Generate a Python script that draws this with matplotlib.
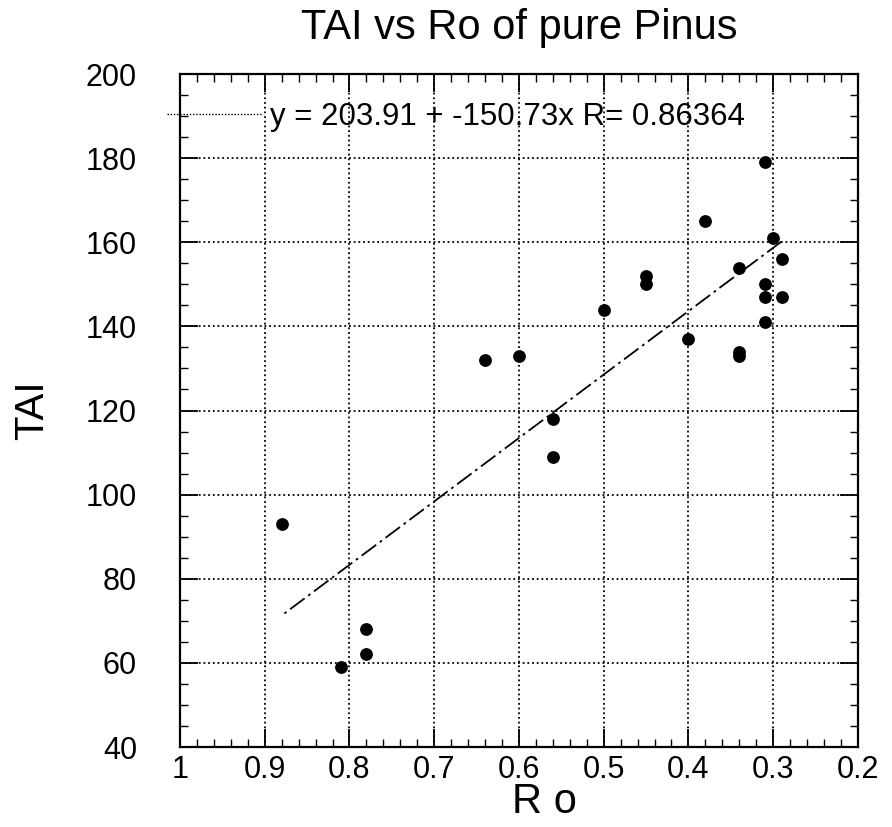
import matplotlib
matplotlib.use("Agg")
import matplotlib.pyplot as plt
from matplotlib.lines import Line2D
from matplotlib.ticker import MultipleLocator
import numpy as np

ro = [0.88, 0.81, 0.78, 0.78, 0.64, 0.60, 0.56, 0.56, 0.50, 0.45, 0.45, 0.40,
      0.38, 0.34, 0.34, 0.34, 0.31, 0.31, 0.31, 0.31, 0.30, 0.29, 0.29]
tai = [93, 59, 68, 62, 132, 133, 118, 109, 144, 152, 150, 137,
       165, 154, 134, 133, 179, 150, 147, 141, 161, 156, 147]
intercept = 203.91
slope = -150.73
r_value = 0.86364
title = "TAI vs Ro of pure Pinus"
xlabel = "R o"
ylabel = "TAI"
xticks = [1, 0.9, 0.8, 0.7, 0.6, 0.5, 0.4, 0.3, 0.2]
xticklabels = ["1", "0.9", "0.8", "0.7", "0.6", "0.5", "0.4", "0.3", "0.2"]
yticks = [40, 60, 80, 100, 120, 140, 160, 180, 200]

plt.rcParams["font.family"] = ["Liberation Sans", "DejaVu Sans"]

fig = plt.figure(figsize=(8.92, 8.27), dpi=100)
ax = fig.add_axes([0.2018, 0.0967, 0.760, 0.8138])

ax.scatter(ro, tai, s=85, color="black", linewidths=0, zorder=3)
xl = np.array([min(ro), max(ro)])
ax.plot(xl, intercept + slope * xl, color="black", lw=1.3,
        linestyle=(0, (10, 2.5, 1.5, 2.5)), zorder=2)

ax.set_xlim(1, 0.2)
ax.set_ylim(40, 200)
ax.set_xticks(xticks)
ax.set_xticklabels(xticklabels, fontsize=22)
ax.set_yticks(yticks)
ax.set_yticklabels([str(v) for v in yticks], fontsize=22)
ax.xaxis.set_minor_locator(MultipleLocator(0.02))
ax.yaxis.set_minor_locator(MultipleLocator(5))
ax.tick_params(which="both", direction="in", top=True, right=True, color="black")
ax.tick_params(which="major", length=13, width=1.3)
ax.tick_params(axis="y", which="major", pad=31)
ax.tick_params(axis="x", which="major", pad=6)
ax.tick_params(which="minor", length=6, width=1.0)
ax.grid(True, which="major", color="black", linestyle=(0, (1, 1.6)), lw=1.3)
for s in ax.spines.values():
    s.set_linewidth(1.6)
    s.set_color("black")

ax.set_title(title, fontsize=30, pad=25)
ax.set_xlabel(xlabel, fontsize=30, labelpad=0)
ax.xaxis.set_label_coords(0.538, -0.052)
ax.set_ylabel(ylabel, fontsize=29)
ax.yaxis.set_label_coords(-0.19, 0.5)

label = f"y = {intercept:.2f} + {slope:.2f}x R= {r_value:.5f}"
handle = Line2D([], [], color="black", linestyle=(0, (1, 1.3)), lw=1.0)
leg = ax.legend([handle], [label], loc="center left", bbox_to_anchor=(-0.019, 0.936),
                borderaxespad=0, borderpad=0, frameon=False,
                handlelength=3.0, handletextpad=0.3, fontsize=22.5)

fig.savefig("out.png", dpi=100)
